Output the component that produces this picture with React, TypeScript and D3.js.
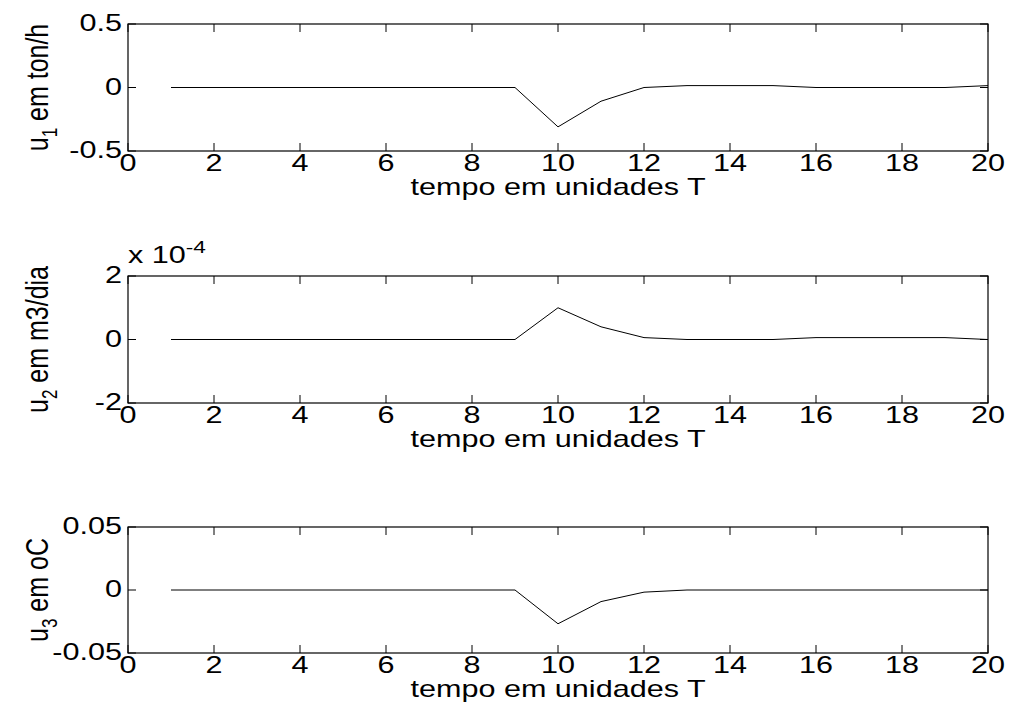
import React from "react";
import * as d3 from "d3";

const tSteps = d3.range(1, 21);
const u1Values = [0, 0, 0, 0, 0, 0, 0, 0, 0, -0.31, -0.108, 0, 0.015, 0.015, 0.015, 0, 0, 0, 0, 0.015];
const u2Values = [0, 0, 0, 0, 0, 0, 0, 0, 0, 1.0, 0.4, 0.06, 0, 0, 0, 0.06, 0.06, 0.06, 0.06, 0];
const u3Values = [0, 0, 0, 0, 0, 0, 0, 0, 0, -0.0268, -0.0092, -0.0017, 0, 0, 0, 0, 0, 0, 0, 0];

const xTicks = d3.range(0, 21, 2);
const yTicks1 = [-0.5, 0, 0.5];
const yTicks2 = [-2, 0, 2];
const yTicks3 = [-0.05, 0, 0.05];
const yTickLabels1 = ["-0.5", "0", "0.5"];
const yTickLabels2 = ["-2", "0", "2"];
const yTickLabels3 = ["-0.05", "0", "0.05"];
const xLabel = "tempo em unidades T";

const panels = [
  { values: u1Values, ticks: yTicks1, labels: yTickLabels1, domain: [-0.5, 0.5], top: 24, bottom: 151, ylab: ["u", "1", " em ton/h"], exp: null as string | null },
  { values: u2Values, ticks: yTicks2, labels: yTickLabels2, domain: [-2, 2], top: 276, bottom: 403, ylab: ["u", "2", " em m3/dia"], exp: "-4" },
  { values: u3Values, ticks: yTicks3, labels: yTickLabels3, domain: [-0.05, 0.05], top: 527, bottom: 653, ylab: ["u", "3", " em oC"], exp: null },
];

const LEFT = 128;
const RIGHT = 988;
const FONT = "Arial, 'Liberation Sans', Helvetica, sans-serif";
const FS = 23;
const SX = 1.33;
const FSR = 25;
const SXR = 1.25;
const SUB = 17;
const TL = 8;

function T({ x, y, anchor, children, rotate }: { x: number; y: number; anchor?: string; children: React.ReactNode; rotate?: boolean }) {
  const sx = rotate ? SXR : SX;
  return (
    <g transform={`translate(${x},${y}) scale(${sx},1)${rotate ? " rotate(-90)" : ""}`}>
      <text x={0} y={0} textAnchor={anchor || "start"} fontSize={rotate ? FSR : FS} fill="#000">{children}</text>
    </g>
  );
}

export default function App() {
  const x = d3.scaleLinear().domain([0, 20]).range([LEFT, RIGHT]);
  return (
    <svg width={1015} height={722} style={{ position: "absolute", left: 0, top: 0, background: "#fff" }} fontFamily={FONT}>
      <rect x={0} y={0} width={1015} height={722} fill="#fff" />
      {panels.map((p, i) => {
        const y = d3.scaleLinear().domain(p.domain).range([p.bottom, p.top]);
        const line = d3.line<number>().x((_, j) => x(tSteps[j])).y((v) => y(v));
        const ymid = (p.top + p.bottom) / 2;
        return (
          <g key={i}>
            <path d={line(p.values) || ""} fill="none" stroke="#000" strokeWidth={1} />
            <rect x={LEFT} y={p.top} width={RIGHT - LEFT} height={p.bottom - p.top} fill="none" stroke="#000" strokeWidth={1.2} />
            {xTicks.map((t) => (
              <g key={"x" + t}>
                <line x1={x(t)} x2={x(t)} y1={p.bottom} y2={p.bottom - TL} stroke="#000" strokeWidth={1} />
                <line x1={x(t)} x2={x(t)} y1={p.top} y2={p.top + TL} stroke="#000" strokeWidth={1} />
                <T x={x(t)} y={p.bottom + 20} anchor="middle">{t}</T>
              </g>
            ))}
            {p.ticks.map((t, k) => (
              <g key={"y" + k}>
                <line x1={LEFT} x2={LEFT + TL} y1={y(t)} y2={y(t)} stroke="#000" strokeWidth={1} />
                <line x1={RIGHT} x2={RIGHT - TL} y1={y(t)} y2={y(t)} stroke="#000" strokeWidth={1} />
                <T x={LEFT - 6} y={y(t) + 7} anchor="end">{p.labels[k]}</T>
              </g>
            ))}
            <T x={(LEFT + RIGHT) / 2} y={p.bottom + 44} anchor="middle">{xLabel}</T>
            <T x={48} y={ymid} anchor="middle" rotate>
              <tspan>{p.ylab[0]}</tspan>
              <tspan dy={7} fontSize={SUB}>{p.ylab[1]}</tspan>
              <tspan dy={-7}>{p.ylab[2]}</tspan>
            </T>
            {p.exp && (
              <T x={LEFT} y={p.top - 13}>
                <tspan>x 10</tspan>
                <tspan dy={-10} fontSize={SUB}>{p.exp}</tspan>
              </T>
            )}
          </g>
        );
      })}
    </svg>
  );
}
